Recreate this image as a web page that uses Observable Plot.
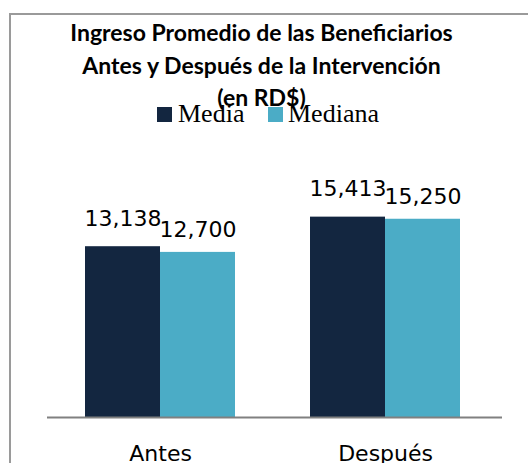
<!DOCTYPE html>
<html>
<head>
<meta charset="utf-8">
<script src="https://cdn.jsdelivr.net/npm/d3@7"></script>
<script src="https://cdn.jsdelivr.net/npm/@observablehq/plot@0.6"></script>
<style>
  html, body { margin: 0; padding: 0; background: #fff; }
  #wrap { position: relative; width: 528px; height: 463px; overflow: hidden; }
  #frame { position: absolute; left: 9px; top: 13px; width: 600px; height: 500px;
           border-left: 2px solid #9a9a9a; border-top: 2px solid #9a9a9a; }
  #chart { position: absolute; left: 0; top: 0; }
  #title { position: absolute; left: 0; width: 523px; top: 16px; text-align: center;
           font-family: Lato, sans-serif; font-weight: bold; font-size: 23px; line-height: 32.5px; color: #000; }
  .sw { position: absolute; width: 15px; height: 15px; }
  .lg { position: absolute; font-family: "Liberation Serif", serif; font-size: 26px; line-height: 26px; color: #000; }
</style>
</head>
<body>
<div id="wrap">
  <div id="frame"></div>
  <div id="chart"></div>
  <div id="title"></div>
  <div id="legend"></div>
</div>
<script>
const titleLines = ["Ingreso Promedio de las Beneficiarios", "Antes y Después de la Intervención", "(en RD$)"];
const categories = ["Antes", "Después"];
const series = ["Media", "Mediana"];
const media = [13138, 15413];
const mediana = [12700, 15250];
const colors = ["#132640", "#4bacc6"];

const rows = [];
categories.forEach((c, i) => {
  rows.push({group: c, series: "Media", key: c + "|Media", value: media[i]});
  rows.push({group: c, series: "Mediana", key: c + "|Mediana", value: mediana[i]});
});
const xDomain = [categories[0] + "|Media", categories[0] + "|Mediana", "gap", categories[1] + "|Media", categories[1] + "|Mediana"];
const fmt = d3.format(",");

const plot = Plot.plot({
  width: 528,
  height: 463,
  marginLeft: 47,
  marginRight: 26,
  marginTop: 180,
  marginBottom: 46,
  style: {background: "transparent", overflow: "visible"},
  x: {domain: xDomain, range: [84, 460], padding: 0, axis: null},
  y: {domain: [0, 18000], range: [417, 183], axis: null},
  color: {domain: series, range: colors},
  marks: [
    Plot.barY(rows, {x: "key", y: "value", fill: "series", inset: 0}),
    Plot.ruleY([0], {stroke: "#808080", strokeWidth: 2}),
    Plot.text(rows.filter(d => d.series === "Media"), {x: "key", y: "value", text: d => fmt(d.value),
      lineAnchor: "bottom", dy: -21, fontSize: 22, fontFamily: "DejaVu Sans", fill: "#000"}),
    Plot.text(rows.filter(d => d.series === "Mediana"), {x: "key", y: "value", text: d => fmt(d.value),
      lineAnchor: "bottom", dy: -15, fontSize: 22, fontFamily: "DejaVu Sans", fill: "#000"}),
    Plot.text(rows.filter(d => d.series === "Media"), {x: "key", y: 0, text: "group",
      dx: 37.6, dy: 36, fontSize: 22, fontFamily: "DejaVu Sans", fill: "#000"})
  ]
});
document.getElementById("chart").appendChild(plot);

document.getElementById("title").innerHTML = titleLines.join("<br>");

const legend = document.getElementById("legend");
const lgPos = [{sx: 157, tx: 178}, {sx: 268, tx: 288}];
series.forEach((s, i) => {
  const sw = document.createElement("div");
  sw.className = "sw";
  sw.style.left = lgPos[i].sx + "px";
  sw.style.top = "107px";
  sw.style.background = colors[i];
  legend.appendChild(sw);
  const t = document.createElement("div");
  t.className = "lg";
  t.style.left = lgPos[i].tx + "px";
  t.style.top = "101px";
  t.textContent = s;
  legend.appendChild(t);
});
</script>
</body>
</html>
